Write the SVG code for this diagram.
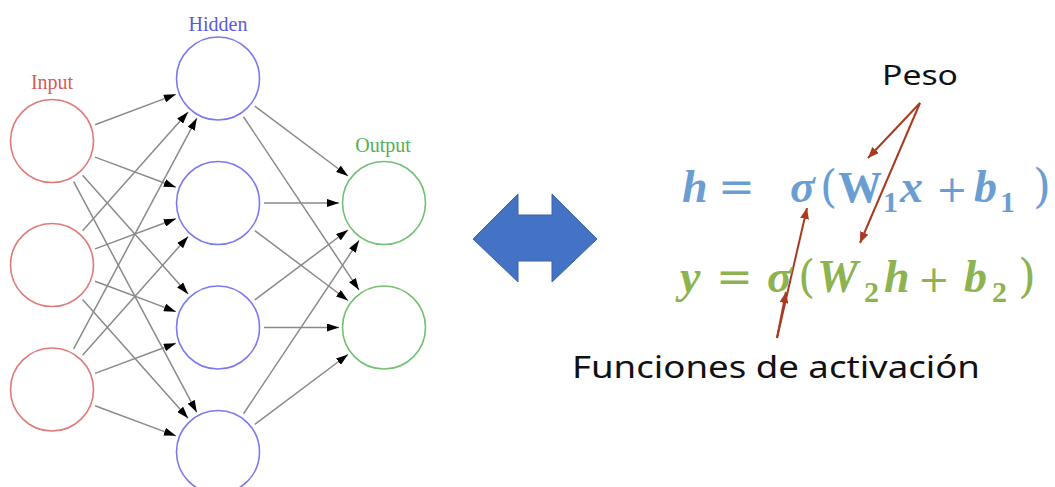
<svg xmlns="http://www.w3.org/2000/svg" width="1055" height="487" viewBox="0 0 1055 487">
<style>
.lbl{font-family:"Liberation Serif","DejaVu Serif",serif;font-size:20px;text-anchor:middle}
.in{fill:none;stroke:#e07a7a;stroke-width:1.6}
.hid{fill:none;stroke:#7a7af0;stroke-width:1.6}
.out{fill:none;stroke:#72c072;stroke-width:1.6}
.edge{stroke:#8a8a8a;stroke-width:1.5;fill:none;marker-end:url(#ah)}
.red{stroke:#a83a1f;stroke-width:2;fill:none;marker-end:url(#rh)}
.mi{font-family:"Liberation Serif","DejaVu Serif",serif;font-weight:bold;font-style:italic}
.mu{font-family:"Liberation Serif","DejaVu Serif",serif;font-weight:bold}
.op{font-family:"DejaVu Serif",serif;font-weight:normal}
.ann{font-family:"Noto Sans","DejaVu Sans",sans-serif;fill:#111}
</style>
<defs>
<marker id="ah" markerUnits="userSpaceOnUse" markerWidth="12" markerHeight="8" refX="12" refY="4" orient="auto">
<path d="M0,0 L12,4 L0,8 z" fill="#000"/>
</marker>
<marker id="rh" markerUnits="userSpaceOnUse" markerWidth="11" markerHeight="9" refX="11" refY="4.5" orient="auto">
<path d="M0,0 L11,4.5 L0,9 z" fill="#a83a1f"/>
</marker>
</defs>
<rect width="1055" height="487" fill="#fff"/>

<g id="connectors">
<line class="edge" x1="95.05" y1="124.79" x2="175.88" y2="94.36"/>
<line class="edge" x1="95.09" y1="157.10" x2="175.84" y2="187.25"/>
<line class="edge" x1="82.58" y1="175.36" x2="188.08" y2="293.89"/>
<line class="edge" x1="73.66" y1="181.58" x2="196.81" y2="412.30"/>
<line class="edge" x1="82.58" y1="230.64" x2="188.08" y2="112.11"/>
<line class="edge" x1="95.09" y1="248.90" x2="175.84" y2="218.75"/>
<line class="edge" x1="95.05" y1="281.21" x2="175.88" y2="311.64"/>
<line class="edge" x1="82.54" y1="299.40" x2="188.12" y2="418.34"/>
<line class="edge" x1="73.66" y1="348.92" x2="196.81" y2="118.20"/>
<line class="edge" x1="82.58" y1="355.14" x2="188.08" y2="236.62"/>
<line class="edge" x1="95.09" y1="373.40" x2="175.84" y2="343.25"/>
<line class="edge" x1="95.05" y1="405.71" x2="175.88" y2="435.86"/>
<line class="edge" x1="254.8" y1="106.1" x2="348" y2="176"/>
<line class="edge" x1="243.52" y1="116.78" x2="359.04" y2="290.06"/>
<line class="edge" x1="264" y1="203" x2="339" y2="203"/>
<line class="edge" x1="254.8" y1="230.6" x2="348" y2="300.5"/>
<line class="edge" x1="254.8" y1="299.9" x2="348" y2="230"/>
<line class="edge" x1="264" y1="327.5" x2="339" y2="327.5"/>
<line class="edge" x1="243.52" y1="413.72" x2="359.04" y2="240.44"/>
<line class="edge" x1="254.8" y1="424.4" x2="348" y2="354.5"/>
<line class="red" x1="920" y1="103" x2="868" y2="158"/>
<line class="red" x1="920" y1="103" x2="860" y2="243"/>
<line class="red" x1="777" y1="338" x2="807" y2="208"/>
<line class="red" x1="777" y1="338" x2="786" y2="292"/>
</g>

<g id="label-input"><text class="lbl" x="52" y="89" fill="#d45a5a">Input</text></g>
<g id="label-hidden"><text class="lbl" x="218" y="31" fill="#5a5ae0">Hidden</text></g>
<g id="label-output"><text class="lbl" x="383" y="152" fill="#55b055">Output</text></g>

<g id="input1"><circle class="in" cx="52" cy="141" r="41.5"/></g>
<g id="input2"><circle class="in" cx="52" cy="265" r="41.5"/></g>
<g id="input3"><circle class="in" cx="52" cy="389.5" r="41.5"/></g>
<g id="hidden1"><circle class="hid" cx="218" cy="78.5" r="41.5"/></g>
<g id="hidden2"><circle class="hid" cx="218" cy="203" r="41.5"/></g>
<g id="hidden3"><circle class="hid" cx="218" cy="327.5" r="41.5"/></g>
<g id="hidden4"><circle class="hid" cx="218" cy="452" r="41.5"/></g>
<g id="output1"><circle class="out" cx="384" cy="203" r="41.5"/></g>
<g id="output2"><circle class="out" cx="384" cy="327.5" r="41.5"/></g>

<g id="double-arrow">
<polygon points="473,239 518,194 518,215 552,215 552,194 597,239 552,282 552,261 518,261 518,282" fill="#4472c4" stroke="#3a63ab" stroke-width="1"/>
</g>

<g id="eq1" fill="#6a9ed3">
<text y="202" font-size="46"><tspan class="mi" x="682">h</tspan><tspan class="op" x="718" font-size="44">=</tspan><tspan class="mi" x="790">σ</tspan><tspan class="op" x="820" font-size="44">(</tspan><tspan class="mu" x="838" font-size="44">W</tspan><tspan class="mi" x="900">x</tspan><tspan class="op" x="936" font-size="38">+</tspan><tspan class="mi" x="974">b</tspan><tspan class="op" x="1033">)</tspan></text>
<text y="212" font-size="30" class="mu"><tspan x="883">1</tspan><tspan x="1000">1</tspan></text>
</g>

<g id="eq2" fill="#8db350">
<text y="292" font-size="46"><tspan class="mi" x="680">y</tspan><tspan class="op" x="716" font-size="44">=</tspan><tspan class="mi" x="767">σ</tspan><tspan class="op" x="798" font-size="44">(</tspan><tspan class="mi" x="817">W</tspan><tspan class="mi" x="884">h</tspan><tspan class="op" x="918" font-size="38">+</tspan><tspan class="mi" x="964">b</tspan><tspan class="op" x="1018">)</tspan></text>
<text y="302" font-size="30" class="mu"><tspan x="864">2</tspan><tspan x="992">2</tspan></text>
</g>

<g id="peso"><text class="ann" x="882" y="85" font-size="28" textLength="76" lengthAdjust="spacingAndGlyphs">Peso</text></g>
<g id="funciones"><text class="ann" x="572" y="378" font-size="31" textLength="408" lengthAdjust="spacingAndGlyphs">Funciones de activación</text></g>
</svg>
